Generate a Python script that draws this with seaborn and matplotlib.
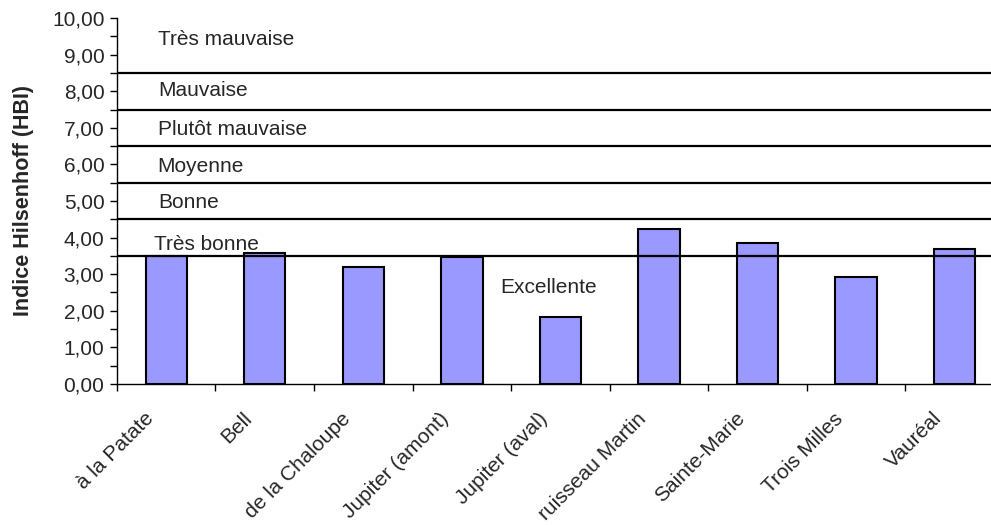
import matplotlib
matplotlib.use("Agg")
import matplotlib.pyplot as plt
import matplotlib.transforms as mtransforms
import numpy as np
import pandas as pd
import seaborn as sns

# Data
stations = ["à la Patate", "Bell", "de la Chaloupe", "Jupiter (amont)", "Jupiter (aval)",
            "ruisseau Martin", "Sainte-Marie", "Trois Milles", "Vauréal"]
hbi = [3.50, 3.58, 3.20, 3.47, 1.83, 4.23, 3.85, 2.92, 3.69]

# class limits and labels
limits = [3.5, 4.5, 5.5, 6.5, 7.5, 8.5]
classes = ["Très bonne", "Bonne", "Moyenne", "Plutôt mauvaise", "Mauvaise", "Très mauvaise"]
class_y = [3.80, 4.97, 5.93, 6.95, 8.03, 9.42]

df = pd.DataFrame({"station": stations, "hbi": hbi})

sns.set_style("ticks")
plt.rcParams["font.family"] = ["Liberation Sans", "DejaVu Sans"]

fs = 15

fig = plt.figure(figsize=(9.91, 5.25), dpi=100)
ax = fig.add_axes([0.118, 0.2686, 0.895, 0.6971])

sns.barplot(data=df, x="station", y="hbi", ax=ax, color="#9999FF", saturation=1,
            width=0.42, edgecolor="black", linewidth=1.5, zorder=2)

for lim in limits:
    ax.axhline(lim, color="black", lw=1.6, zorder=3)

x_txt = [-0.125, -0.08, -0.09, -0.08, -0.08, -0.08]
for x, y, t in zip(x_txt, class_y, classes):
    ax.text(x, y, t, fontsize=fs, va="center", ha="left", zorder=4)
ax.text(3.88, 2.65, "Excellente", fontsize=fs, va="center", ha="center", zorder=4)

ax.set_xlim(-0.5, 8.5)
ax.set_ylim(0, 10)
ax.set_yticks(np.arange(0, 11, 1))
ax.set_yticklabels([f"{v:.2f}".replace(".", ",") for v in range(0, 11)], fontsize=fs)
ax.set_yticks(np.arange(0.5, 10, 1), minor=True)
ax.tick_params(axis="y", which="both", direction="out", length=5, width=1, color="black", pad=4)

ax.set_xticks(range(len(stations)))
ax.set_xticklabels(stations, rotation=45, ha="right", fontsize=fs)
ax.set_xticks(np.arange(-0.5, 9, 1), minor=True)
ax.tick_params(axis="x", which="major", length=0, pad=18)
ax.tick_params(axis="x", which="minor", direction="out", length=5, width=1, color="black")

# shift the rotated labels a little to the left
shift = mtransforms.ScaledTranslation(-0.09, 0, fig.dpi_scale_trans)
for lab in ax.get_xticklabels():
    lab.set_transform(lab.get_transform() + shift)

ax.set_xlabel("")
ax.set_ylabel("Indice Hilsenhoff (HBI)", fontsize=15.5, fontweight="bold", labelpad=13)

sns.despine(ax=ax)
for s in ["left", "bottom"]:
    ax.spines[s].set_color("black")
    ax.spines[s].set_linewidth(1)

fig.savefig("out.png", dpi=100)
